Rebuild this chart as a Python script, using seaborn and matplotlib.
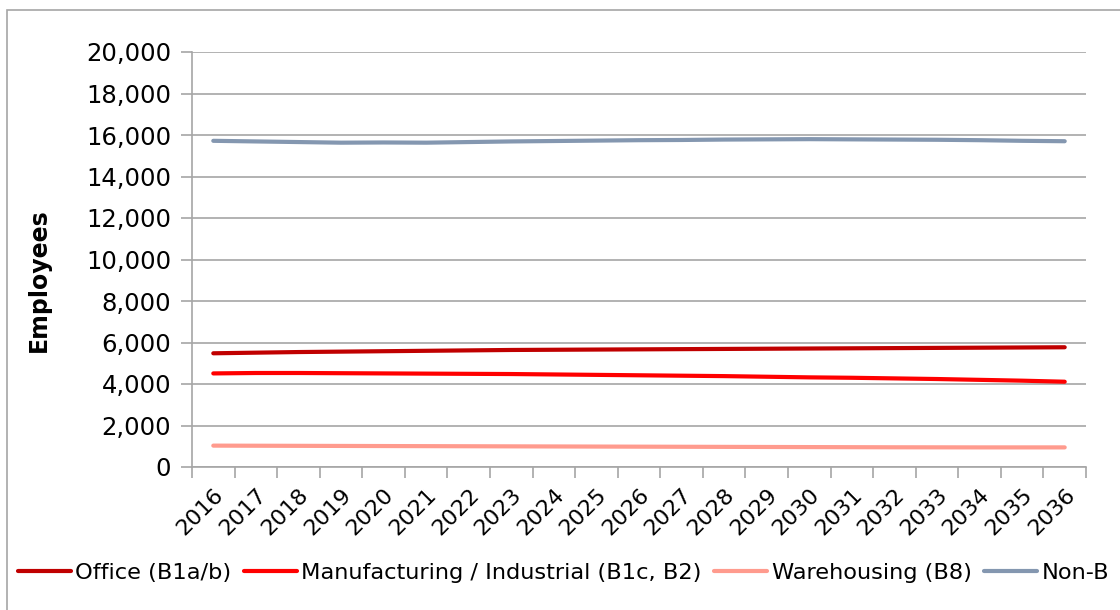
import matplotlib
matplotlib.use("Agg")
import matplotlib.pyplot as plt
import matplotlib.patches as mpatches
from matplotlib.ticker import FuncFormatter, FixedLocator
import seaborn as sns
import pandas as pd

# Employment projections by use class
years = [str(y) for y in range(2016, 2037)]
office = [5480, 5510, 5540, 5560, 5580, 5600, 5620, 5640, 5650, 5660, 5670,
          5680, 5690, 5700, 5710, 5720, 5730, 5740, 5750, 5760, 5770]
manufacturing = [4510, 4530, 4530, 4520, 4510, 4500, 4490, 4480, 4460, 4440, 4420,
                 4400, 4380, 4350, 4320, 4300, 4270, 4240, 4200, 4160, 4110]
warehousing = [1030, 1025, 1020, 1015, 1010, 1005, 1000, 995, 990, 985, 980,
               975, 970, 965, 960, 955, 950, 948, 945, 945, 945]
non_b = [15720, 15690, 15660, 15630, 15640, 15630, 15660, 15690, 15710, 15730, 15750,
         15760, 15780, 15790, 15800, 15790, 15780, 15770, 15750, 15720, 15700]

series_names = ["Office (B1a/b)", "Manufacturing / Industrial (B1c, B2)",
                "Warehousing (B8)", "Non-B"]
series_values = [office, manufacturing, warehousing, non_b]
colors = ["#C00000", "#FF0000", "#FF9B8E", "#8497B0"]

df = pd.concat(
    [pd.DataFrame({"Year": years, "Employees": vals, "Series": name})
     for name, vals in zip(series_names, series_values)],
    ignore_index=True,
)

sns.set_theme(style="white")
plt.rcParams["font.family"] = ["DejaVu Sans"]
plt.rcParams["text.color"] = "black"
plt.rcParams["axes.labelcolor"] = "black"
plt.rcParams["xtick.color"] = "black"
plt.rcParams["ytick.color"] = "black"

fig = plt.figure(figsize=(11.2, 6.1), dpi=100)
ax = fig.add_axes([192 / 1120, 1 - 467 / 610, (1086 - 192) / 1120, (467 - 52) / 610])

sns.lineplot(data=df, x="Year", y="Employees", hue="Series",
             palette=dict(zip(series_names, colors)), linewidth=3.0,
             sort=False, ax=ax, legend=False)

grid_color = "#A6A6A6"
ax.set_ylim(0, 20000)
ax.set_xlim(-0.5, len(years) - 0.5)
ax.set_yticks(range(0, 20001, 2000))
ax.yaxis.set_major_formatter(FuncFormatter(lambda v, p: f"{int(v):,}"))
ax.yaxis.grid(True, color=grid_color, linewidth=1.2)
ax.set_axisbelow(True)

ax.set_xticks(range(len(years)))
ax.set_xticklabels(years, rotation=45, ha="right", rotation_mode="anchor")
ax.xaxis.set_minor_locator(FixedLocator([i - 0.5 for i in range(len(years) + 1)]))
ax.tick_params(axis="x", which="major", length=0, pad=13, labelsize=16, labelcolor="black")
ax.tick_params(axis="x", which="minor", length=8, width=1.2, color=grid_color, direction="out")
ax.tick_params(axis="y", length=8, width=1.2, color=grid_color, direction="out",
               labelsize=17.5, pad=7, labelcolor="black")
ax.xaxis.set_ticks_position("bottom")
ax.yaxis.set_ticks_position("left")

for side in ["top", "right"]:
    ax.spines[side].set_visible(False)
for side in ["left", "bottom"]:
    ax.spines[side].set_color(grid_color)
    ax.spines[side].set_linewidth(1.2)

ax.set_xlabel("")
ax.set_ylabel("Employees", fontsize=17, fontweight="bold", color="black")
ax.yaxis.set_label_coords(-0.158, 0.45)

handles = [plt.Line2D([], [], color=c, linewidth=3.0) for c in colors]
fig.legend(handles, series_names, loc="center left",
           bbox_to_anchor=(18 / 1120, 1 - 573 / 610), ncol=4, frameon=False,
           fontsize=16.2, handlelength=2.35, handletextpad=0.2, columnspacing=0.55,
           borderaxespad=0, borderpad=0, labelcolor="black")

# Chart area border
fig.patches.append(mpatches.Rectangle((7 / 1120, -0.1), 1.2, 1 - 10 / 610 + 0.1,
                                      transform=fig.transFigure, fill=False,
                                      edgecolor="#A6A6A6", linewidth=1.2))

fig.savefig("out.png", dpi=100)
